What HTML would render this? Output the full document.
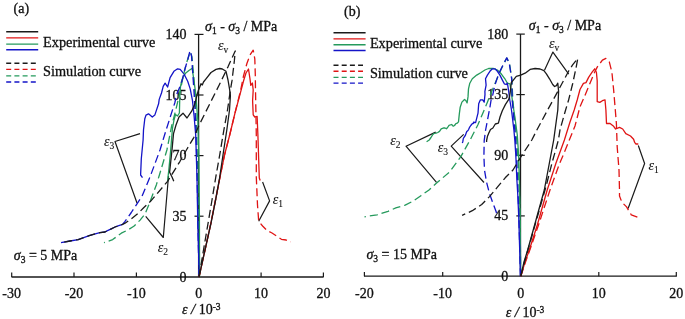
<!DOCTYPE html>
<html><head><meta charset="utf-8"><style>
html,body{margin:0;padding:0;background:#fff;}
svg{display:block;will-change:transform;}
text{font-family:"Liberation Serif",serif;fill:#111;stroke:#111;stroke-width:0.3px;}
</style></head><body>
<svg width="685" height="319" viewBox="0 0 685 319">
<rect width="685" height="319" fill="#fff"/>
<text x="13.5" y="13" font-size="14" text-anchor="start">(a)</text>
<line x1="6.2" y1="31.8" x2="38.2" y2="31.8" stroke="#1a1a1a" stroke-width="1.4"/>
<line x1="6.2" y1="37.9" x2="38.2" y2="37.9" stroke="#e01414" stroke-width="1.4"/>
<line x1="6.2" y1="44.1" x2="38.2" y2="44.1" stroke="#259a5c" stroke-width="1.4"/>
<line x1="6.2" y1="49.8" x2="38.2" y2="49.8" stroke="#1414c8" stroke-width="1.4"/>
<line x1="6.2" y1="63.3" x2="36" y2="63.3" stroke="#1a1a1a" stroke-width="1.4" stroke-dasharray="5 3.2"/>
<line x1="6.2" y1="69.4" x2="36" y2="69.4" stroke="#e01414" stroke-width="1.4" stroke-dasharray="5 3.2"/>
<line x1="6.2" y1="75.9" x2="36" y2="75.9" stroke="#259a5c" stroke-width="1.4" stroke-dasharray="5 3.2"/>
<line x1="6.2" y1="82" x2="36" y2="82" stroke="#1414c8" stroke-width="1.4" stroke-dasharray="5 3.2"/>
<text x="43" y="46.7" font-size="14.3" text-anchor="start">Experimental curve</text>
<text x="43" y="76" font-size="14.3" text-anchor="start">Simulation curve</text>
<line x1="198.6" y1="34.4" x2="198.6" y2="277" stroke="#1a1a1a" stroke-width="1.3"/>
<line x1="11.5" y1="277" x2="323.6" y2="277" stroke="#1a1a1a" stroke-width="1.3"/>
<line x1="194.5" y1="34.4" x2="203.5" y2="34.4" stroke="#1a1a1a" stroke-width="1.2"/>
<line x1="194.5" y1="95" x2="203.5" y2="95" stroke="#1a1a1a" stroke-width="1.2"/>
<line x1="194.5" y1="155.6" x2="203.5" y2="155.6" stroke="#1a1a1a" stroke-width="1.2"/>
<line x1="194.5" y1="216.2" x2="203.5" y2="216.2" stroke="#1a1a1a" stroke-width="1.2"/>
<line x1="11.7" y1="272.5" x2="11.7" y2="277" stroke="#1a1a1a" stroke-width="1.2"/>
<line x1="74.0" y1="272.5" x2="74.0" y2="277" stroke="#1a1a1a" stroke-width="1.2"/>
<line x1="136.4" y1="272.5" x2="136.4" y2="277" stroke="#1a1a1a" stroke-width="1.2"/>
<line x1="198.7" y1="272.5" x2="198.7" y2="277" stroke="#1a1a1a" stroke-width="1.2"/>
<line x1="261.1" y1="272.5" x2="261.1" y2="277" stroke="#1a1a1a" stroke-width="1.2"/>
<line x1="323.4" y1="272.5" x2="323.4" y2="277" stroke="#1a1a1a" stroke-width="1.2"/>
<text x="186.5" y="38.9" font-size="14" text-anchor="end">140</text>
<text x="186.5" y="99.5" font-size="14" text-anchor="end">105</text>
<text x="186.5" y="160.1" font-size="14" text-anchor="end">70</text>
<text x="186.5" y="220.7" font-size="14" text-anchor="end">35</text>
<text x="186.5" y="281.5" font-size="14" text-anchor="end">0</text>
<text x="11.7" y="298.1" font-size="14" text-anchor="middle">-30</text>
<text x="74.0" y="298.1" font-size="14" text-anchor="middle">-20</text>
<text x="136.4" y="298.1" font-size="14" text-anchor="middle">-10</text>
<text x="198.7" y="298.1" font-size="14" text-anchor="middle">0</text>
<text x="261.1" y="298.1" font-size="14" text-anchor="middle">10</text>
<text x="323.4" y="298.1" font-size="14" text-anchor="middle">20</text>
<text x="205" y="31" font-size="14"><tspan font-style="italic">σ</tspan><tspan font-size="9.5" dy="3">1</tspan><tspan dy="-3"> - </tspan><tspan font-style="italic">σ</tspan><tspan font-size="9.5" dy="3">3</tspan><tspan dy="-3"> / MPa</tspan></text>
<text x="182" y="314.3" font-size="14"><tspan font-style="italic">ε</tspan> <tspan font-style="italic" font-size="15">/</tspan> 10<tspan font-size="9.5" dy="-4.2">-3</tspan></text>
<text x="13.8" y="260.4" font-size="14"><tspan font-style="italic">σ</tspan><tspan font-size="9.5" dy="3">3</tspan><tspan dy="-3"> = 5 MPa</tspan></text>
<text x="218" y="49.9" font-size="14" style="stroke-width:0.1px"><tspan font-style="italic">ε</tspan><tspan font-size="9.5" dy="3">v</tspan></text>
<text x="272.8" y="204" font-size="14" style="stroke-width:0.1px"><tspan font-style="italic">ε</tspan><tspan font-size="9.5" dy="3">1</tspan></text>
<text x="157.8" y="251.6" font-size="14" style="stroke-width:0.1px"><tspan font-style="italic">ε</tspan><tspan font-size="9.5" dy="3">2</tspan></text>
<text x="104" y="146" font-size="14" style="stroke-width:0.1px"><tspan font-style="italic">ε</tspan><tspan font-size="9.5" dy="3">3</tspan></text>
<polyline points="140.0,133.6 115.0,141.5 137.0,203.0" fill="none" stroke="#1a1a1a" stroke-width="1.2" stroke-linejoin="round"/>
<polyline points="168.5,176.0 163.3,237.5 145.7,216.3" fill="none" stroke="#1a1a1a" stroke-width="1.2" stroke-linejoin="round"/>
<polyline points="262.6,182.0 269.6,200.9 258.7,221.2" fill="none" stroke="#1a1a1a" stroke-width="1.2" stroke-linejoin="round"/>
<polyline points="122.6,224.4 118.8,225.7 115.0,227.0 111.3,228.8 107.5,230.7 105.0,232.0 100.0,232.6 97.0,233.3 89.2,235.7 78.2,239.6 70.0,241.0 61.0,242.7" fill="none" stroke="#1414c8" stroke-width="1.3" stroke-linejoin="round"/>
<polyline points="199.6,277.0 199.4,216.0 198.8,155.0 197.8,120.0 195.7,93.6 194.5,84.5 192.9,73.3 192.3,68.2 188.9,70.5 185.5,73.3 183.3,76.7 181.6,81.2 180.5,86.8 179.9,93.6 179.6,105.0 179.4,113.0 177.5,116.0 175.5,114.5 174.0,120.0 172.5,128.0 171.5,140.0 170.7,150.0 169.0,168.0 167.6,181.0" fill="none" stroke="#259a5c" stroke-width="1.3" stroke-linejoin="round"/>
<polyline points="199.3,277.0 198.5,250.0 197.8,225.0 197.0,178.0 195.7,135.0 194.1,116.3 192.5,100.7 190.2,88.9 187.7,81.3 183.9,73.8 180.2,69.4 177.6,68.8 173.9,71.3 170.1,77.6 167.6,87.0 165.1,83.2 163.2,86.3 161.5,93.0 159.2,99.4 158.6,103.8 154.8,115.1 152.3,117.0 148.5,113.8 146.0,115.1 144.8,118.8 143.5,130.0 143.1,140.0 141.3,158.8 140.6,175.0 142.5,177.6" fill="none" stroke="#1414c8" stroke-width="1.3" stroke-linejoin="round"/>
<polyline points="199.3,277.0 198.8,240.0 198.2,200.0 197.4,160.0 196.4,124.0 194.8,91.4 193.4,72.5 192.0,57.0 190.3,52.0 188.4,57.0 186.2,64.0 183.5,75.0 181.0,87.0 178.2,99.9 176.4,107.4 174.0,116.8 171.6,126.2 166.9,150.0 159.4,175.0 156.5,184.4 150.0,201.9 145.1,213.8 140.1,220.1 133.8,226.3 127.6,230.1 121.3,233.2 118.8,235.0 112.7,239.6 104.0,242.7" fill="none" stroke="#259a5c" stroke-width="1.3" stroke-dasharray="8 4" stroke-linejoin="round"/>
<polyline points="199.0,277.0 198.3,240.0 197.6,200.0 196.8,160.0 195.7,124.0 194.0,91.4 192.7,72.5 191.5,55.7 190.0,50.7 187.6,60.4 185.2,68.0 182.0,80.7 179.8,87.0 176.6,94.4 174.9,102.5 166.1,130.0 160.0,150.0 150.0,177.0 142.0,196.3 131.3,212.5 125.0,221.3 122.6,224.4" fill="none" stroke="#1414c8" stroke-width="1.3" stroke-dasharray="8 4" stroke-linejoin="round"/>
<polyline points="199.0,277.0 205.0,250.0 210.8,223.6 215.5,200.0 219.7,178.6 224.5,155.0 229.7,135.0 235.0,113.0 240.0,94.4 243.8,80.0 246.0,73.0 248.5,69.0 250.0,79.0 250.8,85.4 252.4,83.0 253.2,90.0 252.6,100.7 253.2,114.8 254.8,117.0 257.1,116.3 257.9,135.0 258.7,160.0 259.3,178.0 260.2,180.5" fill="none" stroke="#e01414" stroke-width="1.3" stroke-linejoin="round"/>
<polyline points="199.0,277.0 205.0,250.0 210.8,223.6 215.5,200.0 219.7,178.6 224.5,155.0 229.7,135.0 235.0,113.0 240.7,90.0 243.5,76.0 246.9,63.5 250.0,55.0 253.2,50.2 254.8,58.8 255.3,75.0 255.5,90.0 256.3,135.0 256.3,177.0 257.5,205.0 258.7,221.3 262.6,226.0 267.3,230.7 272.0,233.0 276.7,236.1 281.4,239.3 286.1,240.0 290.8,242.0" fill="none" stroke="#e01414" stroke-width="1.3" stroke-dasharray="8 4" stroke-linejoin="round"/>
<polyline points="199.0,277.0 205.0,250.0 210.9,223.6 215.6,200.0 219.5,178.6 223.0,155.0 226.8,130.0 229.5,110.0 230.4,95.7 229.6,89.4 228.0,80.0 226.0,71.3 222.3,69.0 219.8,68.5 216.0,69.4 211.0,72.5 206.0,78.8 203.5,82.0 202.3,85.0 201.0,83.8 199.1,88.8 198.5,90.0 197.0,95.0 194.9,103.8 191.8,110.9 187.0,118.0 183.0,113.2 179.0,117.0 176.0,125.0 173.5,133.6 172.0,150.0 169.6,172.3 172.0,177.0 173.8,181.3" fill="none" stroke="#1a1a1a" stroke-width="1.3" stroke-linejoin="round"/>
<polyline points="199.0,277.0 203.5,250.0 208.0,223.6 212.0,200.0 215.8,177.0 219.7,155.0 223.6,131.6 227.5,110.0 230.4,90.0 232.0,80.7 234.4,60.4 235.2,51.0 228.1,66.6 219.2,85.0 198.8,125.7 193.9,137.3 187.0,149.0 180.0,161.3 173.8,171.3 167.6,181.3 150.3,201.6 143.9,207.5 137.6,213.8 131.3,218.8 125.0,223.2 122.6,224.4 118.8,225.7 115.0,227.0 111.3,228.8 107.5,230.7 105.0,232.0 100.0,232.6 97.0,233.3 89.2,235.7 78.2,239.6 70.0,241.0 61.0,242.7" fill="none" stroke="#1a1a1a" stroke-width="1.3" stroke-dasharray="8 4" stroke-linejoin="round"/>
<text x="344.1" y="15.5" font-size="14" text-anchor="start">(b)</text>
<line x1="333.5" y1="32.8" x2="365.6" y2="32.8" stroke="#1a1a1a" stroke-width="1.4"/>
<line x1="333.5" y1="38.9" x2="365.6" y2="38.9" stroke="#e01414" stroke-width="1.4"/>
<line x1="333.5" y1="44.8" x2="365.6" y2="44.8" stroke="#259a5c" stroke-width="1.4"/>
<line x1="333.5" y1="50.5" x2="365.6" y2="50.5" stroke="#1414c8" stroke-width="1.4"/>
<line x1="333.5" y1="65.2" x2="363" y2="65.2" stroke="#1a1a1a" stroke-width="1.4" stroke-dasharray="5 3.2"/>
<line x1="333.5" y1="71.3" x2="363" y2="71.3" stroke="#e01414" stroke-width="1.4" stroke-dasharray="5 3.2"/>
<line x1="333.5" y1="77.4" x2="363" y2="77.4" stroke="#259a5c" stroke-width="1.4" stroke-dasharray="5 3.2"/>
<line x1="333.5" y1="83.1" x2="363" y2="83.1" stroke="#1414c8" stroke-width="1.4" stroke-dasharray="5 3.2"/>
<text x="369.9" y="47.9" font-size="14.3" text-anchor="start">Experimental curve</text>
<text x="369.9" y="78.3" font-size="14.3" text-anchor="start">Simulation curve</text>
<line x1="520.5" y1="34.1" x2="520.5" y2="276.2" stroke="#1a1a1a" stroke-width="1.3"/>
<line x1="364" y1="276.2" x2="676.8" y2="276.2" stroke="#1a1a1a" stroke-width="1.3"/>
<line x1="516.3" y1="34.1" x2="524.8" y2="34.1" stroke="#1a1a1a" stroke-width="1.2"/>
<line x1="516.3" y1="94.6" x2="524.8" y2="94.6" stroke="#1a1a1a" stroke-width="1.2"/>
<line x1="516.3" y1="155.3" x2="524.8" y2="155.3" stroke="#1a1a1a" stroke-width="1.2"/>
<line x1="516.3" y1="215.9" x2="524.8" y2="215.9" stroke="#1a1a1a" stroke-width="1.2"/>
<line x1="364.4" y1="272" x2="364.4" y2="276.2" stroke="#1a1a1a" stroke-width="1.2"/>
<line x1="442.7" y1="272" x2="442.7" y2="276.2" stroke="#1a1a1a" stroke-width="1.2"/>
<line x1="520.8" y1="272" x2="520.8" y2="276.2" stroke="#1a1a1a" stroke-width="1.2"/>
<line x1="598.8" y1="272" x2="598.8" y2="276.2" stroke="#1a1a1a" stroke-width="1.2"/>
<line x1="676.3" y1="272" x2="676.3" y2="276.2" stroke="#1a1a1a" stroke-width="1.2"/>
<text x="508.3" y="38.6" font-size="14" text-anchor="end">180</text>
<text x="508.3" y="99.1" font-size="14" text-anchor="end">135</text>
<text x="508.3" y="159.8" font-size="14" text-anchor="end">90</text>
<text x="508.3" y="220.4" font-size="14" text-anchor="end">45</text>
<text x="508.3" y="280.7" font-size="14" text-anchor="end">0</text>
<text x="364.4" y="298.0" font-size="14" text-anchor="middle">-20</text>
<text x="442.7" y="298.0" font-size="14" text-anchor="middle">-10</text>
<text x="520.8" y="298.0" font-size="14" text-anchor="middle">0</text>
<text x="598.8" y="298.0" font-size="14" text-anchor="middle">10</text>
<text x="676.3" y="298.0" font-size="14" text-anchor="middle">20</text>
<text x="528.8" y="30" font-size="14"><tspan font-style="italic">σ</tspan><tspan font-size="9.5" dy="3">1</tspan><tspan dy="-3"> - </tspan><tspan font-style="italic">σ</tspan><tspan font-size="9.5" dy="3">3</tspan><tspan dy="-3"> / MPa</tspan></text>
<text x="505.7" y="316.7" font-size="14"><tspan font-style="italic">ε</tspan> <tspan font-style="italic" font-size="15">/</tspan> 10<tspan font-size="9.5" dy="-4.2">-3</tspan></text>
<text x="366.4" y="259.3" font-size="14"><tspan font-style="italic">σ</tspan><tspan font-size="9.5" dy="3">3</tspan><tspan dy="-3"> = 15 MPa</tspan></text>
<text x="549" y="48.2" font-size="14" style="stroke-width:0.1px"><tspan font-style="italic">ε</tspan><tspan font-size="9.5" dy="3">v</tspan></text>
<text x="648.5" y="169.8" font-size="14" style="stroke-width:0.1px"><tspan font-style="italic">ε</tspan><tspan font-size="9.5" dy="3">1</tspan></text>
<text x="390.3" y="145.4" font-size="14" style="stroke-width:0.1px"><tspan font-style="italic">ε</tspan><tspan font-size="9.5" dy="3">2</tspan></text>
<text x="437.8" y="152.4" font-size="14" style="stroke-width:0.1px"><tspan font-style="italic">ε</tspan><tspan font-size="9.5" dy="3">3</tspan></text>
<polyline points="544.5,70.2 552.9,52.1 568.7,74.1" fill="none" stroke="#1a1a1a" stroke-width="1.2" stroke-linejoin="round"/>
<polyline points="638.3,145.5 644.6,163.5 628.1,208.5" fill="none" stroke="#1a1a1a" stroke-width="1.2" stroke-linejoin="round"/>
<polyline points="435.7,132.1 406.0,146.2 436.5,182.3" fill="none" stroke="#1a1a1a" stroke-width="1.2" stroke-linejoin="round"/>
<polyline points="463.7,134.4 451.2,146.1 484.0,182.5" fill="none" stroke="#1a1a1a" stroke-width="1.2" stroke-linejoin="round"/>
<polyline points="520.7,276.2 520.4,250.0 520.1,216.0 519.4,180.0 518.6,155.0 517.3,135.0 515.0,118.0 512.3,100.0 511.2,91.4 510.0,83.8 507.4,83.2 504.9,78.8 501.2,73.8 497.4,70.0 493.6,68.5 488.6,68.5 484.9,70.0 481.1,72.5 476.7,75.1 472.3,78.8 469.8,83.2 468.5,88.9 468.0,96.9 467.1,102.9 465.8,100.5 464.5,99.5 461.9,102.1 460.2,107.2 459.3,114.1 458.5,121.9 457.2,123.2 455.9,123.6 454.5,125.5 453.3,126.2 451.6,124.5 449.0,125.3 447.6,127.5 446.4,128.8 445.0,128.0 443.8,127.9 441.2,128.8 439.5,131.4 437.8,132.5 436.1,133.1 434.3,133.3 432.6,134.8 431.0,137.5 429.2,140.0 426.6,141.7" fill="none" stroke="#259a5c" stroke-width="1.3" stroke-linejoin="round"/>
<polyline points="520.5,276.2 519.7,250.0 518.7,216.0 517.8,195.0 516.9,180.0 515.8,155.0 514.8,140.0 513.9,130.0 511.5,110.0 509.8,100.0 508.7,91.4 507.4,83.2 506.2,84.5 504.3,83.8 502.4,80.1 499.9,75.1 497.4,71.3 494.9,68.8 492.4,68.8 489.9,71.3 487.4,75.1 485.5,78.8 486.1,85.1 484.9,91.4 485.0,94.4 484.2,102.2 482.7,99.9 480.3,99.9 478.7,103.8 478.0,113.2 475.6,122.6 473.3,122.6 474.0,121.9 473.2,123.5 472.3,123.6 470.8,125.5 469.7,127.1 468.6,129.5 468.0,130.5 466.8,131.5 466.2,133.1 465.3,135.5 464.5,136.6 463.3,138.5 462.8,141.7 462.3,143.0" fill="none" stroke="#1414c8" stroke-width="1.3" stroke-linejoin="round"/>
<polyline points="520.7,276.2 520.4,250.0 520.1,216.0 519.3,190.0 518.3,165.0 516.8,140.0 514.8,120.0 512.8,100.0 511.9,79.2 509.5,63.5 506.8,58.0 503.2,65.0 498.7,74.5 494.0,86.0 490.5,94.4 487.4,102.2 482.5,114.0 477.8,125.0 470.1,140.0 460.7,156.9 449.5,172.0 436.3,183.3 428.7,190.2 420.9,195.7 413.0,201.1 405.2,205.1 395.8,207.9 388.0,211.3 377.0,214.8 364.5,216.8" fill="none" stroke="#259a5c" stroke-width="1.3" stroke-dasharray="8 4" stroke-linejoin="round"/>
<polyline points="520.5,276.2 519.8,250.0 518.9,216.0 517.9,190.0 516.9,165.0 515.6,140.0 514.0,120.0 512.2,100.0 511.7,79.2 509.3,63.5 506.8,57.8 503.0,65.0 498.7,73.8 494.9,85.1 492.7,95.0 491.1,100.0 489.7,108.5 487.5,120.0 485.6,130.0 484.2,140.7 483.9,156.3 484.5,170.0 486.5,182.0 489.5,193.5 492.5,202.0 495.8,210.7 497.4,215.7" fill="none" stroke="#1414c8" stroke-width="1.3" stroke-dasharray="8 4" stroke-linejoin="round"/>
<polyline points="520.8,276.2 525.0,262.0 529.3,250.0 537.3,225.0 547.2,190.0 556.0,163.0 564.4,140.0 570.0,122.0 574.2,110.0 577.2,100.0 580.0,89.5 583.4,83.4 586.0,82.6 588.6,77.4 592.1,72.2 594.7,68.8 596.4,72.2 597.2,80.9 597.2,101.6 599.8,102.4 602.4,100.7 605.0,99.8 605.9,110.0 606.5,123.5 610.1,123.5 613.3,125.9 615.6,129.0 619.5,127.4 622.7,129.0 625.8,133.7 630.5,136.0 633.6,139.2 634.6,142.3 636.0,144.0 638.3,144.0" fill="none" stroke="#e01414" stroke-width="1.3" stroke-linejoin="round"/>
<polyline points="520.8,276.2 525.5,262.0 529.8,250.0 538.5,225.0 550.0,190.0 559.0,165.0 565.9,148.6 569.3,140.0 575.0,126.0 580.0,106.7 584.3,97.0 590.3,82.6 594.0,73.5 597.2,67.1 602.4,60.2 605.9,58.4 609.3,61.9 611.9,72.2 613.6,89.5 615.3,110.0 616.4,123.5 617.2,147.0 619.0,170.0 619.5,190.0 619.5,196.0 621.9,202.2 626.6,206.9 628.9,210.9 631.3,214.8 637.5,217.1" fill="none" stroke="#e01414" stroke-width="1.3" stroke-dasharray="8 4" stroke-linejoin="round"/>
<polyline points="520.8,276.2 524.0,262.0 527.7,250.0 536.0,220.0 544.3,190.0 549.0,165.0 553.7,140.0 557.8,110.0 558.6,91.3 557.8,83.2 556.4,85.6 554.6,86.5 552.7,84.5 549.5,78.8 546.4,73.8 543.9,70.7 540.1,69.0 535.1,68.5 530.1,69.4 525.1,73.2 520.7,75.1 516.3,76.3 511.3,82.6 510.5,90.0 509.5,97.0 508.6,99.7 505.5,104.4 502.3,110.7 500.0,117.0 498.4,123.2 495.3,124.0 492.9,128.0 490.5,129.5 489.0,132.6 487.4,136.6 486.6,140.5 486.6,142.0" fill="none" stroke="#1a1a1a" stroke-width="1.3" stroke-linejoin="round"/>
<polyline points="520.8,276.2 524.5,262.0 528.5,248.0 537.0,218.0 545.9,187.0 552.0,163.0 558.4,140.0 560.0,129.8 565.6,110.0 568.6,100.0 572.7,83.5 576.0,68.0 577.8,58.5 572.6,64.9 568.7,71.0 557.0,92.9 547.6,110.0 537.0,129.7 531.8,140.0 521.6,155.7 513.0,170.0 505.2,177.8 497.4,187.2 489.5,196.6 481.7,204.5 472.3,210.7 462.1,215.4" fill="none" stroke="#1a1a1a" stroke-width="1.3" stroke-dasharray="8 4" stroke-linejoin="round"/>
</svg>
</body></html>
